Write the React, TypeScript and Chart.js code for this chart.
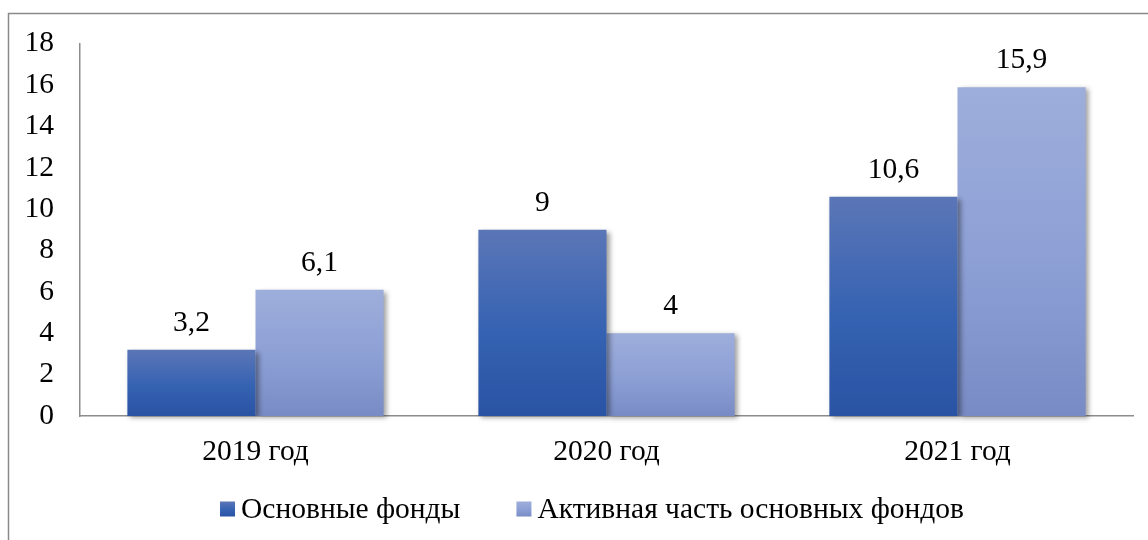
import React, { useEffect, useRef } from 'react';
import { Chart, registerables } from 'chart.js';

Chart.register(...registerables);

// Data
const categories = ['2019 год', '2020 год', '2021 год'];
const fixedAssets = [3.2, 9, 10.6];
const activeAssets = [6.1, 4, 15.9];
const seriesNames = ['Основные фонды', 'Активная часть основных фондов'];
const yMin = 0;
const yMax = 18;
const yStep = 2;

const FONT_FAMILY = '"Liberation Serif", "Times New Roman", serif';
const FONT_SIZE = 29.5;

// Vertical gradient stops (top, middle, bottom) for each series
const darkStops = ['#5b76b7', '#3562b2', '#2a53a4'];
const lightStops = ['#9eaedb', '#8c9fd5', '#788bc4'];

function makeGradient(ctx: CanvasRenderingContext2D, top: number, bottom: number, stops: string[]) {
  const g = ctx.createLinearGradient(0, top, 0, bottom);
  g.addColorStop(0, stops[0]);
  g.addColorStop(0.55, stops[1]);
  g.addColorStop(1, stops[2]);
  return g;
}

function barFill(stops: string[]) {
  return (c: any) => {
    const chart = c.chart;
    const y = chart.scales?.y;
    if (!y || c.type !== 'data') return stops[1];
    const v = c.parsed ? c.parsed.y : c.raw;
    const top = y.getPixelForValue(v);
    const bottom = y.getPixelForValue(0);
    if (!isFinite(top) || !isFinite(bottom) || top === bottom) return stops[1];
    return makeGradient(chart.ctx, top, bottom, stops);
  };
}

const formatValue = (v: number) => String(v).replace('.', ',');

// Thin grey frame around the chart (top and left edges)
const framePlugin = {
  id: 'frame',
  beforeDraw(chart: any) {
    const ctx = chart.ctx;
    ctx.save();
    ctx.fillStyle = '#ffffff';
    ctx.fillRect(0, 0, chart.width, chart.height);
    ctx.strokeStyle = '#8a8a8a';
    ctx.lineWidth = 1.5;
    ctx.beginPath();
    ctx.moveTo(8.5, chart.height);
    ctx.lineTo(8.5, 13.5);
    ctx.lineTo(chart.width, 13.5);
    ctx.stroke();
    ctx.restore();
  },
};

// Soft drop shadow behind the bars
const barShadowPlugin = {
  id: 'barShadow',
  beforeDatasetsDraw(chart: any) {
    const ctx = chart.ctx;
    ctx.save();
    ctx.shadowColor = 'rgba(0,0,0,0.38)';
    ctx.shadowBlur = 5;
    ctx.shadowOffsetX = 3;
    ctx.shadowOffsetY = 2;
  },
  afterDatasetsDraw(chart: any) {
    chart.ctx.restore();
  },
};

// Value labels above each bar
const valueLabelPlugin = {
  id: 'valueLabels',
  afterDraw(chart: any) {
    const ctx = chart.ctx;
    ctx.save();
    ctx.font = `${FONT_SIZE}px ${FONT_FAMILY}`;
    ctx.fillStyle = '#000';
    ctx.textAlign = 'center';
    ctx.textBaseline = 'middle';
    chart.data.datasets.forEach((ds: any, di: number) => {
      const meta = chart.getDatasetMeta(di);
      meta.data.forEach((el: any, i: number) => {
        ctx.fillText(formatValue(ds.data[i]), el.x, el.y - 27);
      });
    });
    ctx.restore();
  },
};

// Legend row under the axis
const legendPlugin = {
  id: 'bottomLegend',
  afterDraw(chart: any) {
    const ctx = chart.ctx;
    const box = 15;
    const boxGap = 6;
    const itemGap = 56;
    const centerX = 592;
    const centerY = 510;
    ctx.save();
    ctx.font = `${FONT_SIZE}px ${FONT_FAMILY}`;
    ctx.textBaseline = 'middle';
    ctx.textAlign = 'left';
    const items = chart.data.datasets.map((ds: any, i: number) => ({
      text: ds.label as string,
      stops: i === 0 ? darkStops : lightStops,
      w: ctx.measureText(ds.label).width,
    }));
    const total =
      items.reduce((s: number, it: any) => s + box + boxGap + it.w, 0) + itemGap * (items.length - 1);
    let x = centerX - total / 2;
    items.forEach((it: any) => {
      const top = centerY - box / 2 - 1;
      ctx.fillStyle = makeGradient(ctx, top, top + box, it.stops);
      ctx.fillRect(x, top, box, box);
      x += box + boxGap;
      ctx.fillStyle = '#000';
      ctx.fillText(it.text, x, centerY);
      x += it.w + itemGap;
    });
    ctx.restore();
  },
};

export default function App() {
  const canvasRef = useRef<HTMLCanvasElement>(null);

  useEffect(() => {
    const canvas = canvasRef.current;
    if (!canvas) return;
    const font = { family: FONT_FAMILY, size: FONT_SIZE };
    const chart = new Chart(canvas, {
      type: 'bar',
      data: {
        labels: categories,
        datasets: [
          {
            label: seriesNames[0],
            data: fixedAssets,
            backgroundColor: barFill(darkStops),
            borderWidth: 0,
            clip: false as any,
          },
          {
            label: seriesNames[1],
            data: activeAssets,
            backgroundColor: barFill(lightStops),
            borderWidth: 0,
            clip: false as any,
          },
        ],
      },
      options: {
        responsive: false,
        animation: false,
        layout: { padding: { top: 43, right: 15, bottom: 64, left: 0 } },
        datasets: { bar: { categoryPercentage: 0.73, barPercentage: 1 } },
        plugins: {
          legend: { display: false },
          tooltip: { enabled: false },
        },
        scales: {
          x: {
            grid: { display: false, drawTicks: false },
            border: { display: true, color: '#8c8c8c', width: 1.5 },
            ticks: { font, color: '#000', padding: 19 },
            afterFit: (s: any) => {
              s.height = 60;
            },
          },
          y: {
            min: yMin,
            max: yMax,
            grid: { display: false, drawTicks: false },
            border: { display: true, color: '#8c8c8c', width: 1.5 },
            ticks: { stepSize: yStep, font, color: '#000', padding: 26 },
            afterFit: (s: any) => {
              s.width = 80;
            },
          },
        },
      },
      plugins: [framePlugin, barShadowPlugin, valueLabelPlugin, legendPlugin],
    });
    return () => chart.destroy();
  }, []);

  return (
    <div style={{ position: 'fixed', left: 0, top: 0, width: 1148, height: 540, background: '#fff' }}>
      <canvas ref={canvasRef} width={1148} height={540} style={{ display: 'block' }} />
    </div>
  );
}
